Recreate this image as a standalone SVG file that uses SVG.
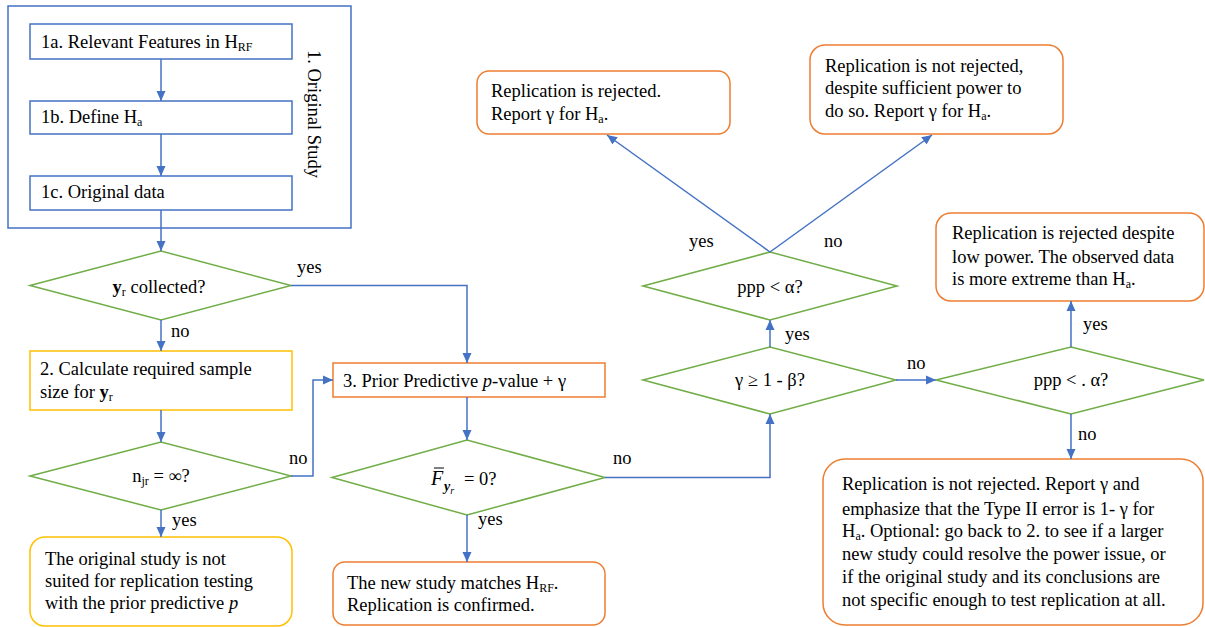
<svg xmlns="http://www.w3.org/2000/svg" width="1205" height="627" viewBox="0 0 1205 627">
<defs>
<marker id="ah" markerUnits="userSpaceOnUse" markerWidth="10" markerHeight="10" viewBox="0 0 10 10" refX="10" refY="5" orient="auto">
<path d="M0,0.5 L10,5 L0,9.5 z" fill="#4472C4"/>
</marker>
<style>
text{font-family:"Liberation Serif","Times New Roman",serif;font-size:18.5px;fill:#000}
.c{text-anchor:middle}
.sub{font-size:12px}
.bx{fill:#fff;stroke:#4472C4;stroke-width:1.5}
.dm{fill:#fff;stroke:#70AD47;stroke-width:1.5}
.or{fill:#fff;stroke:#ED7D31;stroke-width:1.5}
.ye{fill:#fff;stroke:#FFC000;stroke-width:1.5}
.ln{fill:none;stroke:#4472C4;stroke-width:1.5;marker-end:url(#ah)}
</style>
</defs>
<rect width="1205" height="627" fill="#fff"/>

<g id="original-study">
<rect x="8" y="6" width="343" height="222" class="bx"/>
<text transform="translate(308,50) rotate(90)">1. Original Study</text>
</g>
<g id="n1a">
<rect x="30" y="24" width="262" height="35" class="bx"/>
<text x="41" y="48">1a. Relevant Features in H<tspan class="sub" dy="3">RF</tspan></text>
</g>
<g id="n1b">
<rect x="30" y="101" width="262" height="33" class="bx"/>
<text x="41" y="123">1b. Define H<tspan class="sub" dy="3">a</tspan></text>
</g>
<g id="n1c">
<rect x="30" y="176" width="262" height="34" class="bx"/>
<text x="41" y="198">1c. Original data</text>
</g>

<g id="d-collected">
<polygon points="30,285.5 161,251 291,285.5 161,320" class="dm"/>
<text x="159" y="293" class="c"><tspan font-weight="bold">y</tspan><tspan class="sub" dy="3">r</tspan><tspan dy="-3"> collected?</tspan></text>
</g>
<g id="n2">
<rect x="30" y="351" width="262" height="59" class="ye"/>
<text x="40" y="375">2. Calculate required sample</text>
<text x="40" y="398">size for <tspan font-weight="bold">y</tspan><tspan class="sub" dy="3">r</tspan></text>
</g>
<g id="d-njr">
<polygon points="30,476 161,442 291,476 161,510" class="dm"/>
<text x="161" y="482" class="c">n<tspan class="sub" dy="3">jr</tspan><tspan dy="-3"> = ∞?</tspan></text>
</g>
<g id="n-notsuited">
<rect x="30" y="537" width="262" height="89" rx="15" class="ye"/>
<text x="45" y="565">The original study is not</text>
<text x="45" y="587">suited for replication testing</text>
<text x="45" y="609">with the prior predictive <tspan font-style="italic">p</tspan></text>
</g>

<g id="n3">
<rect x="333" y="363" width="272" height="34" class="or"/>
<text x="343" y="387">3. Prior Predictive <tspan font-style="italic">p</tspan>-value + γ</text>
</g>
<g id="d-F">
<polygon points="332,477.5 467,440 605,477.5 467,515" class="dm"/>
<text x="431" y="485"><tspan font-style="italic" font-size="20">F</tspan><tspan x="444" font-style="italic" font-weight="bold" font-size="14" dy="6">y</tspan><tspan font-style="italic" font-size="10" dy="3">r</tspan><tspan x="464" dy="-9">= 0?</tspan></text>
<line x1="434" y1="468" x2="444" y2="468" stroke="#000" stroke-width="1"/>
</g>
<g id="n-confirmed">
<rect x="333" y="562" width="272" height="63" rx="12" class="or"/>
<text x="347" y="589">The new study matches H<tspan class="sub" dy="3">RF</tspan><tspan dy="-3">.</tspan></text>
<text x="347" y="611">Replication is confirmed.</text>
</g>

<g id="d-gamma">
<polygon points="643,380 770,347 896,380 770,414" class="dm"/>
<text x="770" y="386" class="c">γ ≥ 1 - β?</text>
</g>
<g id="d-ppp">
<polygon points="643,286 770,252 897,286 770,320" class="dm"/>
<text x="770" y="293" class="c">ppp &lt; α?</text>
</g>
<g id="n-rejected">
<rect x="477" y="71" width="253" height="63" rx="12" class="or"/>
<text x="491" y="97">Replication is rejected.</text>
<text x="491" y="120">Report γ for H<tspan class="sub" dy="3">a</tspan><tspan dy="-3">.</tspan></text>
</g>
<g id="n-notrejected-power">
<rect x="810" y="45" width="253" height="89" rx="15" class="or"/>
<text x="825" y="72">Replication is not rejected,</text>
<text x="825" y="94">despite sufficient power to</text>
<text x="825" y="117">do so. Report γ for H<tspan class="sub" dy="3">a</tspan><tspan dy="-3">.</tspan></text>
</g>
<g id="d-ppp2">
<polygon points="936,380 1071,347 1204,380 1071,414" class="dm"/>
<text x="1071" y="386" class="c">ppp &lt; . α?</text>
</g>
<g id="n-rejected-low">
<rect x="936" y="213" width="268" height="88" rx="15" class="or"/>
<text x="952" y="239">Replication is rejected despite</text>
<text x="952" y="263">low power. The observed data</text>
<text x="952" y="285">is more extreme than H<tspan class="sub" dy="3">a</tspan><tspan dy="-3">.</tspan></text>
</g>
<g id="n-notrejected-final">
<rect x="823" y="459" width="380" height="166" rx="22" class="or"/>
<text x="842" y="490">Replication is not rejected. Report γ and</text>
<text x="842" y="515">emphasize that the Type II error is 1- γ for</text>
<text x="842" y="537">H<tspan class="sub" dy="3">a</tspan><tspan dy="-3">. Optional: go back to 2. to see if a larger</tspan></text>
<text x="842" y="560">new study could resolve the power issue, or</text>
<text x="842" y="583">if the original study and its conclusions are</text>
<text x="842" y="606">not specific enough to test replication at all.</text>
</g>

<g id="connectors">
<line x1="161" y1="59" x2="161" y2="101" class="ln"/>
<line x1="161" y1="134" x2="161" y2="176" class="ln"/>
<line x1="161" y1="210" x2="161" y2="251" class="ln"/>
<line x1="161" y1="320" x2="161" y2="351" class="ln"/>
<line x1="161" y1="410" x2="161" y2="442" class="ln"/>
<line x1="161" y1="510" x2="161" y2="537" class="ln"/>
<polyline points="291,285.5 467,285.5 467,363" class="ln"/>
<polyline points="291,476 313,476 313,380 333,380" class="ln"/>
<line x1="467" y1="397" x2="467" y2="440" class="ln"/>
<line x1="467" y1="515" x2="467" y2="562" class="ln"/>
<polyline points="605,477.5 770,477.5 770,414" class="ln"/>
<line x1="770" y1="347" x2="770" y2="320" class="ln"/>
<line x1="770" y1="252" x2="607" y2="135" class="ln"/>
<line x1="770" y1="252" x2="932" y2="135" class="ln"/>
<line x1="896" y1="380" x2="936" y2="380" class="ln"/>
<line x1="1071" y1="347" x2="1071" y2="301" class="ln"/>
<line x1="1071" y1="414" x2="1071" y2="459" class="ln"/>
<text x="297" y="273">yes</text>
<text x="171" y="337">no</text>
<text x="289" y="464">no</text>
<text x="172" y="526">yes</text>
<text x="478" y="525">yes</text>
<text x="613" y="464">no</text>
<text x="785" y="340">yes</text>
<text x="907" y="369">no</text>
<text x="689" y="247">yes</text>
<text x="824" y="247">no</text>
<text x="1083" y="330">yes</text>
<text x="1078" y="440">no</text>
</g>
</svg>
